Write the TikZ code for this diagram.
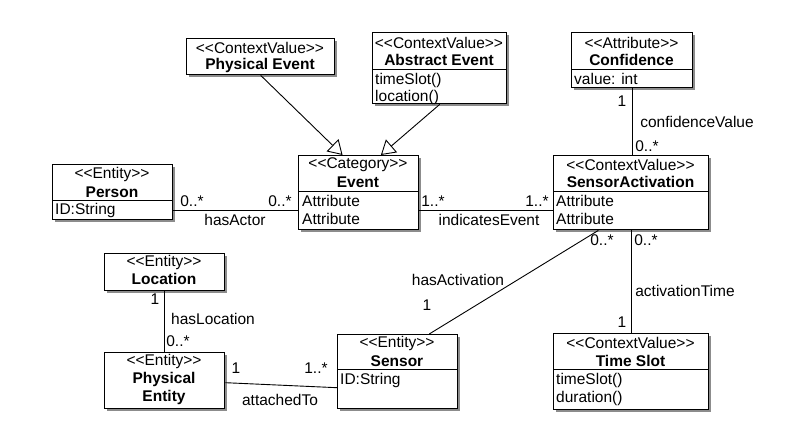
\documentclass[tikz,border=0pt]{standalone}
\usepackage{fontspec}
\setmainfont{Liberation Sans}
\usetikzlibrary{shadows,arrows.meta,calc}
\newcommand\ubox[5]{%
  \pgfmathsetmacro\ubw{#4-#2}\pgfmathsetmacro\ubh{#5-#3}%
  \node[umlbox, minimum width=\ubw pt, minimum height=\ubh pt] (#1) at (#2,#3) {};}
\newcommand\usep[2]{\draw[sepline] (#1.west |- 0,#2) -- (#1.east |- 0,#2);}
\newcommand\stereo[1]{<{}<#1>{}>}
\begin{document}
\begin{tikzpicture}[x=1pt,y=-1pt,
  font=\fontsize{15.5}{18}\selectfont,
  umlbox/.style={draw, line width=1.4pt, fill=white, anchor=north west, inner sep=0pt,
    drop shadow={shadow xshift=2.5pt, shadow yshift=-2.5pt, fill=black, opacity=0.45}},
  sepline/.style={line width=1pt},
  txt/.style={inner sep=0pt, anchor=center},
  bold/.style={txt, font=\fontsize{15.5}{18}\selectfont\bfseries},
  att/.style={inner sep=0pt, anchor=west},
  conn/.style={line width=0.9pt},
  gen/.style={line width=0.9pt, -{Triangle[open, length=14pt, width=17pt, line width=0.9pt, fill=white]}},
  lbl/.style={inner sep=0pt, anchor=center}
]
\useasboundingbox (0,0) rectangle (796,435);

% Physical Event
\ubox{pe}{186}{38}{334}{74}
\node[txt] (pe-s) at (260,48) {\stereo{ContextValue}};
\node[bold] (pe-n) at (260,65) {Physical Event};

% Abstract Event
\ubox{ae}{372}{32}{506}{103}
\node[txt] (ae-s) at (439,43) {\stereo{ContextValue}};
\node[bold] (ae-n) at (439,60) {Abstract Event};
\usep{ae}{70}
\node[att] (ae-a1) at (375,80) {timeSlot()};
\node[att] (ae-a2) at (375,97) {location()};

% Confidence
\ubox{cf}{571}{32}{692}{87}
\node[txt] (cf-s) at (631.5,43) {\stereo{Attribute}};
\node[bold] (cf-n) at (631.5,60) {Confidence};
\usep{cf}{70}
\node[att] (cf-a1) at (574,79) {value: int};

% Person
\ubox{per}{52}{164}{172}{219}
\node[txt] (per-s) at (112,174) {\stereo{Entity}};
\node[bold] (per-n) at (112,192) {Person};
\usep{per}{201}
\node[att] (per-a1) at (55,210) {ID:String};

% Event
\ubox{ev}{298}{155}{418}{229}
\node[txt] (ev-s) at (358,165) {\stereo{Category}};
\node[bold] (ev-n) at (358,182) {Event};
\usep{ev}{192}
\node[att] (ev-a1) at (302,201) {Attribute};
\node[att] (ev-a2) at (302,219) {Attribute};

% SensorActivation
\ubox{sa}{553}{155}{708}{229}
\node[txt] (sa-s) at (630.5,165) {\stereo{ContextValue}};
\node[bold] (sa-n) at (630.5,182) {SensorActivation};
\usep{sa}{192}
\node[att] (sa-a1) at (556,201) {Attribute};
\node[att] (sa-a2) at (556,219) {Attribute};

% Location
\ubox{loc}{104}{253}{224}{290}
\node[txt] (loc-s) at (164,262) {\stereo{Entity}};
\node[bold] (loc-n) at (164,279) {Location};

% Physical Entity
\ubox{pen}{104}{352}{224}{408}
\node[txt] (pen-s) at (164,361) {\stereo{Entity}};
\node[bold] (pen-n1) at (164,379) {Physical};
\node[bold] (pen-n2) at (164,397) {Entity};

% Sensor
\ubox{sen}{337}{334}{457}{408}
\node[txt] (sen-s) at (397,343) {\stereo{Entity}};
\node[bold] (sen-n) at (397,361) {Sensor};
\usep{sen}{370}
\node[att] (sen-a1) at (340,380) {ID:String};

% Time Slot
\ubox{ts}{553}{333}{708}{409}
\node[txt] (ts-s) at (630.5,343) {\stereo{ContextValue}};
\node[bold] (ts-n) at (630.5,361) {Time Slot};
\usep{ts}{370}
\node[att] (ts-a1) at (556,380) {timeSlot()};
\node[att] (ts-a2) at (556,398) {duration()};

% generalizations
\draw[gen] (pe.south) -- ($(ev.north west)!0.367!(ev.north east)$);
\draw[gen] (ae.south) -- ($(ev.north west)!0.683!(ev.north east)$);

% associations
\path ([yshift=-18pt]ev.west) coordinate (evL);
\path ([yshift=-18pt]ev.east) coordinate (evR);
\draw[conn] (per.east |- evL) -- (evL);
\draw[conn] (evR) -- (sa.west |- evR);
\draw[conn] (cf.south) -- (cf.south |- sa.north);
\draw[conn] (sa.south) -- (sa.south |- ts.north);
\draw[conn] ($(sa.south west)!0.29!(sa.south east)$) -- ($(sen.north west)!0.76!(sen.north east)$);
\draw[conn] (loc.south) -- (pen.north);
\draw[conn] ([yshift=-2pt]pen.east) -- ([yshift=-16pt]sen.west);

% labels
\node[lbl] (l1) at (192,201) {0..*};
\node[lbl] (l2) at (280,201) {0..*};
\node[lbl] (l3) at (235,220) {hasActor};
\node[lbl] (l4) at (433,201) {1..*};
\node[lbl] (l5) at (537,201) {1..*};
\node[lbl] (l6) at (489,220) {indicatesEvent};
\node[lbl] (l7) at (622,101) {1};
\node[lbl] (l8) at (697,122) {confidenceValue};
\node[lbl] (l9) at (647,146) {0..*};
\node[lbl] (l10) at (646,240) {0..*};
\node[lbl] (l11) at (685,291) {activationTime};
\node[lbl] (l12) at (622,322) {1};
\node[lbl] (l13) at (602,240) {0..*};
\node[lbl] (l14) at (458,280) {hasActivation};
\node[lbl] (l15) at (427,305) {1};
\node[lbl] (l16) at (155,299) {1};
\node[lbl] (l17) at (213,319) {hasLocation};
\node[lbl] (l18) at (178,341) {0..*};
\node[lbl] (l19) at (236,368) {1};
\node[lbl] (l20) at (316,368) {1..*};
\node[lbl] (l21) at (280,400) {attachedTo};
\end{tikzpicture}
\end{document}
